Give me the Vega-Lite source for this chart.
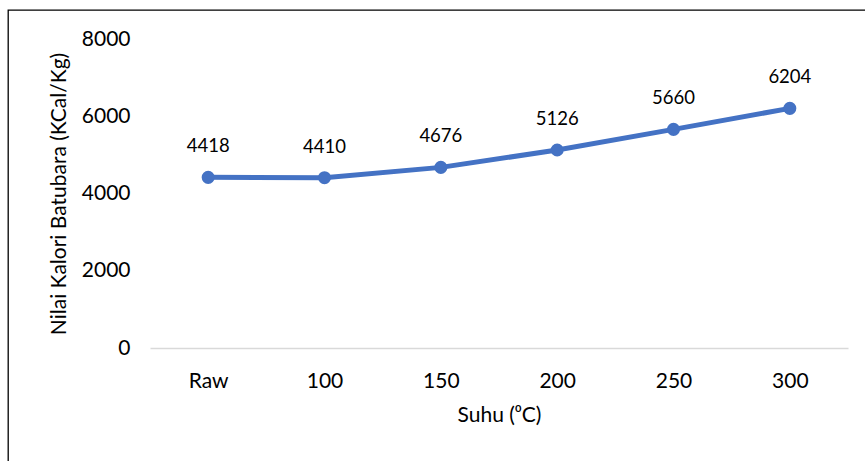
{
  "$schema": "https://vega.github.io/schema/vega-lite/v6.json",
  "autosize": "none",
  "padding": {"left": 8, "top": 10, "right": -3, "bottom": -3},
  "width": 860,
  "height": 454,
  "background": "white",
  "config": {
    "font": "Lato",
    "view": {"stroke": "#000000", "strokeWidth": 1.3},
    "axis": {"labelColor": "#000000", "titleColor": "#000000", "labelFont": "Lato", "titleFont": "Lato", "titleFontWeight": "normal", "grid": false, "ticks": false}
  },
  "data": {
    "values": [
      {"suhu": "Raw", "kalori": 4418},
      {"suhu": "100", "kalori": 4410},
      {"suhu": "150", "kalori": 4676},
      {"suhu": "200", "kalori": 5126},
      {"suhu": "250", "kalori": 5660},
      {"suhu": "300", "kalori": 6204}
    ]
  },
  "encoding": {
    "x": {
      "field": "suhu",
      "type": "ordinal",
      "sort": null,
      "scale": {"type": "point", "padding": 0.5, "range": [142, 840]},
      "axis": {
        "orient": "bottom",
        "offset": -116,
        "title": "Suhu (⁰C)",
        "labelAngle": 0,
        "labelFontSize": 21,
        "labelPadding": 22,
        "titleFontSize": 21,
        "titlePadding": 13,
        "domain": true,
        "domainColor": "#d9d9d9",
        "domainWidth": 1.5
      }
    },
    "y": {
      "field": "kalori",
      "type": "quantitative",
      "scale": {"domain": [0, 8000], "range": [338, 29], "nice": false, "zero": true},
      "axis": {
        "orient": "left",
        "offset": -142,
        "values": [0, 2000, 4000, 6000, 8000],
        "format": "d",
        "title": "Nilai Kalori Batubara (KCal/Kg)",
        "labelFontSize": 21,
        "labelPadding": 20,
        "titleFontSize": 21,
        "titlePadding": 12,
        "domain": false
      }
    }
  },
  "layer": [
    {
      "mark": {"type": "line", "color": "#4472C4", "strokeWidth": 5, "clip": false}
    },
    {
      "mark": {"type": "point", "filled": true, "opacity": 1, "color": "#4472C4", "size": 170, "clip": false}
    },
    {
      "mark": {"type": "text", "dy": -31, "fontSize": 18.5, "color": "#000000", "font": "Lato"},
      "encoding": {"text": {"field": "kalori", "type": "quantitative", "format": "d"}}
    }
  ]
}
